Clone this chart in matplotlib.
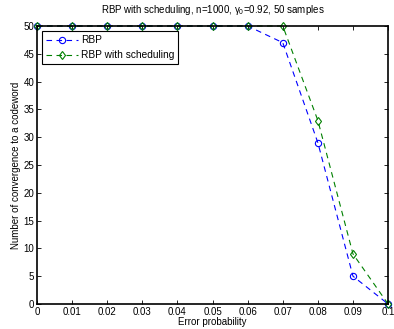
import matplotlib
matplotlib.use('Agg')
import matplotlib.pyplot as plt

# error probabilities and number of runs that converged (out of 50)
p_err = [0, 0.01, 0.02, 0.03, 0.04, 0.05, 0.06, 0.07, 0.08, 0.09, 0.1]
rbp = [50, 50, 50, 50, 50, 50, 50, 47, 29, 5, 0]
rbp_sched = [50, 50, 50, 50, 50, 50, 50, 50, 33, 9, 0]
xticks = [0, 0.01, 0.02, 0.03, 0.04, 0.05, 0.06, 0.07, 0.08, 0.09, 0.1]
xtick_labels = ['0', '0.01', '0.02', '0.03', '0.04', '0.05', '0.06', '0.07', '0.08', '0.09', '0.1']
yticks = list(range(0, 51, 5))

plt.rcParams['font.family'] = ['Liberation Sans', 'DejaVu Sans']
plt.rcParams['font.size'] = 7
plt.rcParams['mathtext.fontset'] = 'custom'
plt.rcParams['mathtext.rm'] = 'Liberation Sans'
plt.rcParams['mathtext.it'] = 'Liberation Sans'

fig = plt.figure(figsize=(3.94, 3.29), dpi=100)
ax = fig.add_axes([0.094, 0.076, 0.891, 0.845])

ax.plot(p_err, rbp, color='#0000ff', marker='o', mfc='none', ls=(0, (5, 4)),
        markersize=4.5, lw=0.8, mew=0.8, label='RBP', clip_on=False)
ax.plot(p_err, rbp_sched, color='#008000', marker='d', mfc='none', ls=(0, (5, 4)),
        markersize=4.5, lw=0.8, mew=0.8, label='RBP with scheduling', clip_on=False)

ax.set_xlim(0, 0.1)
ax.set_ylim(0, 50)
ax.set_xticks(xticks)
ax.set_xticklabels(xtick_labels)
ax.set_yticks(yticks)
ax.tick_params(direction='in', top=True, right=True, length=3, width=0.6, pad=2)
for s in ax.spines.values():
    s.set_linewidth(1.2)

ax.set_xlabel('Error probability', labelpad=0)
ax.set_ylabel('Number of convergence to a codeword', labelpad=2)
ax.set_title(r'RBP with scheduling, n=1000, $\gamma_0$=0.92, 50 samples',
             fontsize=7, pad=9)

leg = ax.legend(loc='upper left', fancybox=False, edgecolor='black',
                framealpha=1, borderaxespad=0.5, handlelength=3.1,
                handletextpad=0.3, fontsize=7.3)
leg.get_frame().set_linewidth(0.8)

fig.savefig('out.png', dpi=100)
